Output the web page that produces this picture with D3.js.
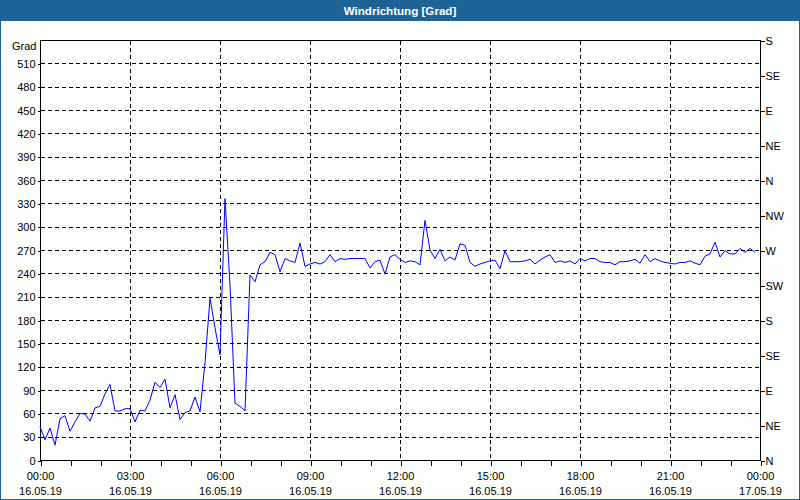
<!DOCTYPE html>
<html>
<head>
<meta charset="utf-8">
<script src="https://cdn.jsdelivr.net/npm/d3@7"></script>
<style>
  html, body { margin: 0; padding: 0; background: #fcfefc; }
  svg { display: block; }
  text { font-family: "Liberation Sans", Arial, sans-serif; font-size: 11px; fill: #000; }
</style>
</head>
<body>
<svg id="chart" width="800" height="500"></svg>
<script>
// ---- data ----
const title = "Windrichtung [Grad]";
const unitLabel = "Grad";
const startDate = "2019-05-16T00:00:00";
const endDate = "2019-05-17T00:00:00";
const intervalMinutes = 10;
// wind direction in degrees, every 10 minutes from 00:00
const direction = [
  43, 26, 41, 19, 53, 57, 37, 49, 60, 59, 50, 67, 69, 85, 97, 63, 63, 66, 66, 49,
  64, 63, 77, 100, 93, 104, 67, 84, 52, 61, 63, 81, 62, 125, 208, 170, 135, 336, 225, 73,
  69, 63, 238, 229, 251, 255, 267, 264, 242, 259, 256, 254, 279, 249, 252, 254, 252, 255, 264, 255,
  259, 258, 259, 259, 259, 259, 247, 255, 257, 239, 261, 264, 258, 254, 256, 255, 251, 308, 270, 259,
  271, 256, 261, 257, 278, 276, 254, 249, 252, 254, 256, 257, 246, 269, 255, 255, 255, 256, 258, 252,
  257, 261, 264, 254, 256, 254, 256, 252, 259, 256, 259, 259, 255, 254, 254, 251, 255, 255, 256, 258,
  253, 264, 255, 259, 256, 254, 253, 252, 254, 254, 256, 253, 251, 262, 265, 280, 261, 269, 265, 265,
  272, 267, 272, 267
];
const leftTicks = [0, 30, 60, 90, 120, 150, 180, 210, 240, 270, 300, 330, 360, 390, 420, 450, 480, 510];
const rightTickValues = [0, 45, 90, 135, 180, 225, 270, 315, 360, 405, 450, 495, 540];
const rightTickLabels = ["N", "NE", "E", "SE", "S", "SW", "W", "NW", "N", "NE", "E", "SE", "S"];
const timeLabels = ["00:00", "03:00", "06:00", "09:00", "12:00", "15:00", "18:00", "21:00", "00:00"];
const dateLabels = ["16.05.19", "16.05.19", "16.05.19", "16.05.19", "16.05.19", "16.05.19", "16.05.19", "16.05.19", "17.05.19"];

// ---- layout ----
const W = 800, H = 500;
const L = 40, R = 760, T = 40, B = 460;
const svg = d3.select("#chart");

const t0 = new Date(startDate), t1 = new Date(endDate);
const x = d3.scaleTime().domain([t0, t1]).range([L, R]);
const y = d3.scaleLinear().domain([0, 540]).range([B, T]);

const points = direction.map((v, i) => ({ t: new Date(t0.getTime() + i * intervalMinutes * 60000), v }));
const labelTimes = timeLabels.map((_, i) => new Date(t0.getTime() + i * 3 * 3600000));
const hourTicks = d3.timeHour.range(t0, d3.timeHour.offset(t1, 1));

// background
svg.append("rect").attr("x", 0).attr("y", 0).attr("width", W).attr("height", H).attr("fill", "#fcfefc");
// title bar
svg.append("rect").attr("x", 0).attr("y", 0).attr("width", W).attr("height", 21).attr("fill", "#1d6396");
svg.append("text").attr("x", W / 2).attr("y", 15).attr("text-anchor", "middle")
  .style("fill", "#fff").style("font-weight", "bold").style("font-size", "11.6px").text(title);
// outer border
svg.append("rect").attr("x", 0.5).attr("y", 0.5).attr("width", W - 1).attr("height", H - 1)
  .attr("fill", "none").attr("stroke", "#1d6396").attr("stroke-width", 1);

const g = svg.append("g").attr("transform", "translate(0.5,0.5)");

// grid
g.append("g").selectAll("line.h").data(leftTicks.filter(d => d > 0)).join("line")
  .attr("x1", L).attr("x2", R).attr("y1", d => Math.round(y(d))).attr("y2", d => Math.round(y(d)))
  .attr("stroke", "#000").attr("stroke-dasharray", "4,3").attr("shape-rendering", "crispEdges");
g.append("g").selectAll("line.v").data(labelTimes.slice(1, -1)).join("line")
  .attr("x1", d => Math.round(x(d))).attr("x2", d => Math.round(x(d))).attr("y1", T).attr("y2", B)
  .attr("stroke", "#000").attr("stroke-dasharray", "4,3").attr("shape-rendering", "crispEdges");

// frame
g.append("rect").attr("x", L).attr("y", T).attr("width", R - L).attr("height", B - T)
  .attr("fill", "none").attr("stroke", "#000").attr("shape-rendering", "crispEdges");

// left axis
const yAxis = d3.axisLeft(y).tickValues(leftTicks).tickSize(3).tickPadding(2).tickFormat(d3.format("d"));
const ga = g.append("g").attr("transform", `translate(${L},0)`).call(yAxis);
ga.select(".domain").remove();
ga.selectAll("text").style("font-family", "Liberation Sans, Arial, sans-serif").style("font-size", "11px");
g.append("text").attr("x", 36).attr("y", 46).attr("dy", "0.32em").attr("text-anchor", "end").text(unitLabel);

// right axis
const rAxis = d3.axisRight(y).tickValues(rightTickValues).tickSize(4).tickPadding(1)
  .tickFormat((d, i) => rightTickLabels[i]);
const gr = g.append("g").attr("transform", `translate(${R},0)`).call(rAxis);
gr.select(".domain").remove();
gr.selectAll("text").style("font-family", "Liberation Sans, Arial, sans-serif").style("font-size", "11px");

// bottom axis (hour ticks)
const xAxis = d3.axisBottom(x).tickValues(hourTicks).tickSize(5).tickFormat("");
const gb = g.append("g").attr("transform", `translate(0,${B})`).call(xAxis);
gb.select(".domain").remove();
gb.selectAll("line").attr("shape-rendering", "crispEdges");
ga.selectAll("line").attr("shape-rendering", "crispEdges");
gr.selectAll("line").attr("shape-rendering", "crispEdges");

// bottom labels
const lab = g.append("g");
lab.selectAll("text.time").data(labelTimes).join("text")
  .attr("x", d => x(d)).attr("y", 479).attr("text-anchor", "middle").text((d, i) => timeLabels[i]);
lab.selectAll("text.date").data(labelTimes).join("text")
  .attr("x", d => x(d)).attr("y", 494).attr("text-anchor", "middle").text((d, i) => dateLabels[i]);

// line
const line = d3.line().x(d => x(d.t)).y(d => y(d.v));
svg.append("path").datum(points).attr("d", line)
  .attr("fill", "none").attr("stroke", "#0000ff").attr("stroke-width", 1);
</script>
</body>
</html>
